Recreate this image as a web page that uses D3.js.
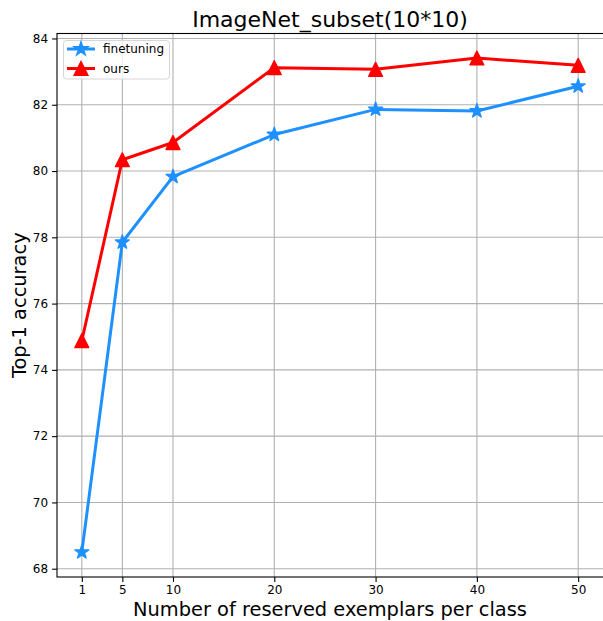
<!DOCTYPE html>
<html>
<head>
<meta charset="utf-8">
<script src="https://cdn.jsdelivr.net/npm/d3@7"></script>
<style>
  body { margin: 0; background: #fff; }
  text { font-family: "DejaVu Sans", sans-serif; fill: #000; }
</style>
</head>
<body>
<div id="chart"></div>
<script>
// values
const exemplars = [1, 5, 10, 20, 30, 40, 50];
const finetuning = [68.5, 77.85, 79.83, 81.1, 81.86, 81.81, 82.56];
const ours = [74.88, 80.34, 80.86, 83.12, 83.07, 83.41, 83.19];
const yTicks = [68, 70, 72, 74, 76, 78, 80, 82, 84];
const seriesNames = ["finetuning", "ours"];

function graph(id) {
    let width = 603, height = 621;
    let left = 57, right = 603, top = 33.5, bottom = 577;

    let svg = d3.select(id).append("svg")
        .attr("width", width)
        .attr("height", height);

    // matplotlib-like limits with 5% margins
    let x = d3.scaleLinear().domain([-1.45, 52.45]).range([left, right]);
    let y = d3.scaleLinear().domain([67.75, 84.15]).range([bottom, top]);

    // grid
    svg.append("g").selectAll("line").data(exemplars).enter().append("line")
        .attr("x1", (d) => x(d)).attr("x2", (d) => x(d))
        .attr("y1", top).attr("y2", bottom)
        .attr("stroke", "#b0b0b0").attr("stroke-width", 1.1);
    svg.append("g").selectAll("line").data(yTicks).enter().append("line")
        .attr("x1", left).attr("x2", right)
        .attr("y1", (d) => y(d)).attr("y2", (d) => y(d))
        .attr("stroke", "#b0b0b0").attr("stroke-width", 1.1);

    // axes with outward ticks
    let xAxis = svg.append("g")
        .attr("transform", `translate(0,${bottom})`)
        .call(d3.axisBottom(x).tickValues(exemplars).tickSize(4.9).tickPadding(4));
    let yAxis = svg.append("g")
        .attr("transform", `translate(${left},0)`)
        .call(d3.axisLeft(y).tickValues(yTicks).tickSize(4.9).tickPadding(4));
    [xAxis, yAxis].forEach((a) => {
        a.select(".domain").remove();
        a.selectAll("line").attr("stroke", "#000").attr("stroke-width", 1.1);
        a.selectAll("text").style("font-family", "DejaVu Sans").style("font-size", "12px");
    });

    let star = (r) => {
        let p = [];
        for (let i = 0; i < 10; i++) {
            let rad = i % 2 ? r * 0.381966 : r;
            let a = i * Math.PI / 5;
            p.push([rad * Math.sin(a), -rad * Math.cos(a)]);
        }
        return "M" + p.join("L") + "Z";
    };
    let triangle = (r) => `M0,${-r}L${-r},${r}L${r},${r}Z`;

    let series = [
        { name: seriesNames[0], values: finetuning, color: "#1e90ff", marker: star(7.3) },
        { name: seriesNames[1], values: ours, color: "#ff0000", marker: triangle(6.9) }
    ];

    let line = d3.line()
        .x((d, i) => x(exemplars[i]))
        .y((d) => y(d));

    series.forEach((s) => {
        svg.append("path")
            .datum(s.values)
            .attr("d", line)
            .attr("fill", "none")
            .attr("stroke", s.color)
            .attr("stroke-width", 3)
            .attr("stroke-linejoin", "round");
        svg.append("g").selectAll("path").data(s.values).enter().append("path")
            .attr("d", s.marker)
            .attr("transform", (d, i) => `translate(${x(exemplars[i])},${y(d)})`)
            .attr("fill", s.color)
            .attr("stroke", s.color)
            .attr("stroke-width", 1.4)
            .attr("stroke-linejoin", "round");
    });

    // frame (right spine falls just outside the picture)
    svg.append("rect")
        .attr("x", left).attr("y", top)
        .attr("width", right - left + 3).attr("height", bottom - top)
        .attr("fill", "none").attr("stroke", "#000").attr("stroke-width", 1.1);

    // legend
    let legend = svg.append("g");
    legend.append("rect")
        .attr("x", 63.5).attr("y", 40.5).attr("width", 106).attr("height", 38.5)
        .attr("rx", 3)
        .attr("fill", "#fff").attr("fill-opacity", 0.8)
        .attr("stroke", "#d6d6d6").attr("stroke-width", 1);
    series.forEach((s, i) => {
        let ly = 49 + i * 19.5;
        legend.append("line")
            .attr("x1", 67).attr("x2", 95).attr("y1", ly).attr("y2", ly)
            .attr("stroke", s.color).attr("stroke-width", 3);
        legend.append("path")
            .attr("d", s.marker)
            .attr("transform", `translate(81,${ly})`)
            .attr("fill", s.color).attr("stroke", s.color).attr("stroke-width", 1.4);
        legend.append("text")
            .attr("x", 103).attr("y", ly + 4.3)
            .style("font-size", "12px")
            .text(s.name);
    });

    // title and axis labels
    svg.append("text")
        .attr("x", (left + right) / 2).attr("y", 27)
        .attr("text-anchor", "middle")
        .style("font-size", "22px")
        .text("ImageNet_subset(10*10)");
    svg.append("text")
        .attr("x", (left + right) / 2).attr("y", 616)
        .attr("text-anchor", "middle")
        .style("font-size", "19.4px")
        .text("Number of reserved exemplars per class");
    svg.append("text")
        .attr("transform", `translate(26,${(top + bottom) / 2}) rotate(-90)`)
        .attr("text-anchor", "middle")
        .style("font-size", "19.4px")
        .text("Top-1 accuracy");
}

graph("#chart");
</script>
</body>
</html>
